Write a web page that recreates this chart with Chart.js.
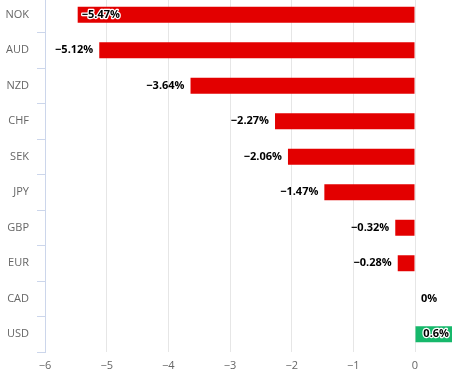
<!DOCTYPE html>
<html>
<head>
<meta charset="utf-8">
<script src="https://cdn.jsdelivr.net/npm/chart.js@4.4.0/dist/chart.umd.min.js"></script>
<style>
  html, body { margin: 0; padding: 0; background: #fff; overflow: hidden; }
  .chart-wrap { position: relative; top: -3px; width: 466px; height: 389px; }
</style>
</head>
<body>
<div class="chart-wrap">
  <canvas id="fxChart" width="466" height="389"></canvas>
</div>
<script>
// currencies and their change in percent
const currencies = ['NOK', 'AUD', 'NZD', 'CHF', 'SEK', 'JPY', 'GBP', 'EUR', 'CAD', 'USD'];
const changes = [-5.47, -5.12, -3.64, -2.27, -2.06, -1.47, -0.32, -0.28, 0, 0.6];
const xTicks = [-6, -5, -4, -3, -2, -1, 0];

const RED = '#e30000';
const GREEN = '#16b86b';
const FONT = '"Open Sans", "DejaVu Sans", sans-serif';

function fmt(v) {
  // use real minus sign like the original
  return (v < 0 ? '\u2212' : '') + Math.abs(v);
}

// draws the value labels next to (or inside) each bar
const valueLabels = {
  id: 'valueLabels',
  afterDatasetsDraw(chart) {
    const ctx = chart.ctx;
    const area = chart.chartArea;
    const meta = chart.getDatasetMeta(0);
    ctx.save();
    ctx.font = 'bold 11px ' + FONT;
    ctx.textBaseline = 'middle';
    ctx.lineJoin = 'round';
    meta.data.forEach(function (bar, i) {
      const v = changes[i];
      const text = fmt(v) + '%';
      const w = ctx.measureText(text).width;
      let x, align, inside = false;
      if (v < 0) {
        if (bar.x - 6 - w < area.left) {
          inside = true; align = 'left'; x = bar.x + 4;
        } else {
          align = 'right'; x = bar.x - 6;
        }
      } else if (v > 0) {
        if (bar.x + 6 + w > area.right) {
          inside = true; align = 'right'; x = bar.x - 3;
        } else {
          align = 'left'; x = bar.x + 6;
        }
      } else {
        align = 'left'; x = bar.base + 6;
      }
      ctx.textAlign = align;
      if (inside) {
        ctx.strokeStyle = '#fff';
        ctx.lineWidth = 2.5;
        ctx.strokeText(text, x, bar.y);
      }
      ctx.fillStyle = '#000';
      ctx.fillText(text, x, bar.y);
    });
    ctx.restore();
  }
};

const ctx = document.getElementById('fxChart').getContext('2d');
new Chart(ctx, {
  type: 'bar',
  data: {
    labels: currencies,
    datasets: [
      {
        data: changes,
        backgroundColor: changes.map(v => (v < 0 ? RED : GREEN)),
        borderWidth: 0,
        barPercentage: 1,
        categoryPercentage: 0.45,
      },
    ],
  },
  options: {
    indexAxis: 'y',
    responsive: false,
    animation: false,
    layout: { padding: { top: 0, right: 14, bottom: 0, left: 0 } },
    plugins: {
      legend: { display: false },
      tooltip: { enabled: false },
    },
    scales: {
      x: {
        type: 'linear',
        min: -6,
        max: 0.6,
        afterBuildTicks: (scale) => {
          scale.ticks = xTicks.map(v => ({ value: v }));
        },
        afterFit: (scale) => { scale.height = 34; },
        border: { display: false },
        grid: { color: '#e6e6e6', lineWidth: 1, drawTicks: false },
        ticks: {
          padding: 7,
          color: '#666',
          font: { size: 11, family: FONT },
          callback: (v) => fmt(v),
        },
      },
      y: {
        afterFit: (scale) => {
          scale.width = 45;
          // no extra room above/below the category band
          scale.paddingTop = 0;
          scale.paddingBottom = 0;
        },
        border: { display: true, color: '#ccd6eb', width: 1 },
        grid: {
          offset: true,
          drawOnChartArea: false,
          drawTicks: true,
          tickLength: 8,
          color: '#ccd6eb',
        },
        ticks: {
          padding: 8,
          color: '#666',
          font: { size: 11, family: FONT },
        },
      },
    },
  },
  plugins: [valueLabels],
});
</script>
</body>
</html>
